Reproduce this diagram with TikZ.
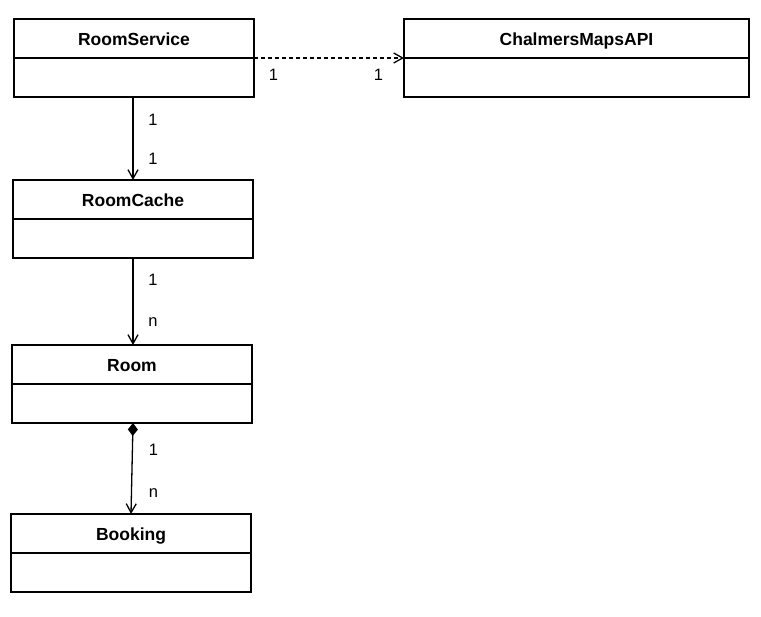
\documentclass[tikz,border=0pt]{standalone}
\usepackage{fontspec}
\setmainfont{Liberation Sans}
\usetikzlibrary{positioning}
\usetikzlibrary{arrows.meta}

\begin{document}
\begin{tikzpicture}[x=1pt,y=-1pt]
\tikzstyle{classHead} = [
  draw = black,
  line width = 1.3pt,
  minimum width = 240pt,
  minimum height = 39pt,
  inner sep = 0pt,
  outer sep = 0pt,
  text height = 14pt,
  text depth = 0pt,
  font = \fontsize{17.5}{20}\selectfont\bfseries
]
\tikzstyle{classBody} = [
  draw = black,
  line width = 1.3pt,
  minimum width = 240pt,
  minimum height = 39pt,
  inner sep = 0pt,
  outer sep = 0pt
]
\tikzstyle{assoc} = [
  line width = 1.3pt,
  -{Straight Barb[length=9pt,width=10pt]}
]
\tikzstyle{depend} = [
  assoc,
  dash pattern = on 4pt off 3pt
]
\tikzstyle{mult} = [
  font = \fontsize{16.5}{18}\selectfont,
  inner sep = 1pt
]

\useasboundingbox (0,0) rectangle (761,617);

\node[classHead] (rs) at (134,38.5) {RoomService};
\node[classBody, below=0pt of rs] (rsBody) {};
\node[classHead, minimum width=345pt] (cm) at (576.5,38.5) {ChalmersMapsAPI};
\node[classBody, minimum width=345pt, below=0pt of cm] (cmBody) {};
\node[classHead] (rc) at (133,199.5) {RoomCache};
\node[classBody, below=0pt of rc] (rcBody) {};
\node[classHead] (room) at (132,364.5) {Room};
\node[classBody, below=0pt of room] (roomBody) {};
\node[classHead] (bk) at (131,533.5) {Booking};
\node[classBody, below=0pt of bk] (bkBody) {};

\draw[depend] (rs.south east) -- (cm.south west)
  node[mult, pos=.13, yshift=-17pt] {1}
  node[mult, pos=.83, yshift=-17pt] {1};
\draw[assoc] (rsBody.south -| rc.north) -- (rc.north)
  node[mult, pos=.27, xshift=20pt] {1}
  node[mult, pos=.75, xshift=20pt] {1};
\draw[assoc] (rcBody.south) -- (room.north -| rcBody.south)
  node[mult, pos=.25, xshift=20pt] {1}
  node[mult, pos=.74, xshift=20pt] {n};
\draw[line width=1.3pt, {Diamond[length=13pt,width=10pt]}-{Straight Barb[length=9pt,width=10pt]}]
  ([xshift=1pt]roomBody.south) -- (bk.north)
  node[mult, pos=.3, xshift=21pt] {1}
  node[mult, pos=.77, xshift=22pt] {n};

\end{tikzpicture}
\end{document}
